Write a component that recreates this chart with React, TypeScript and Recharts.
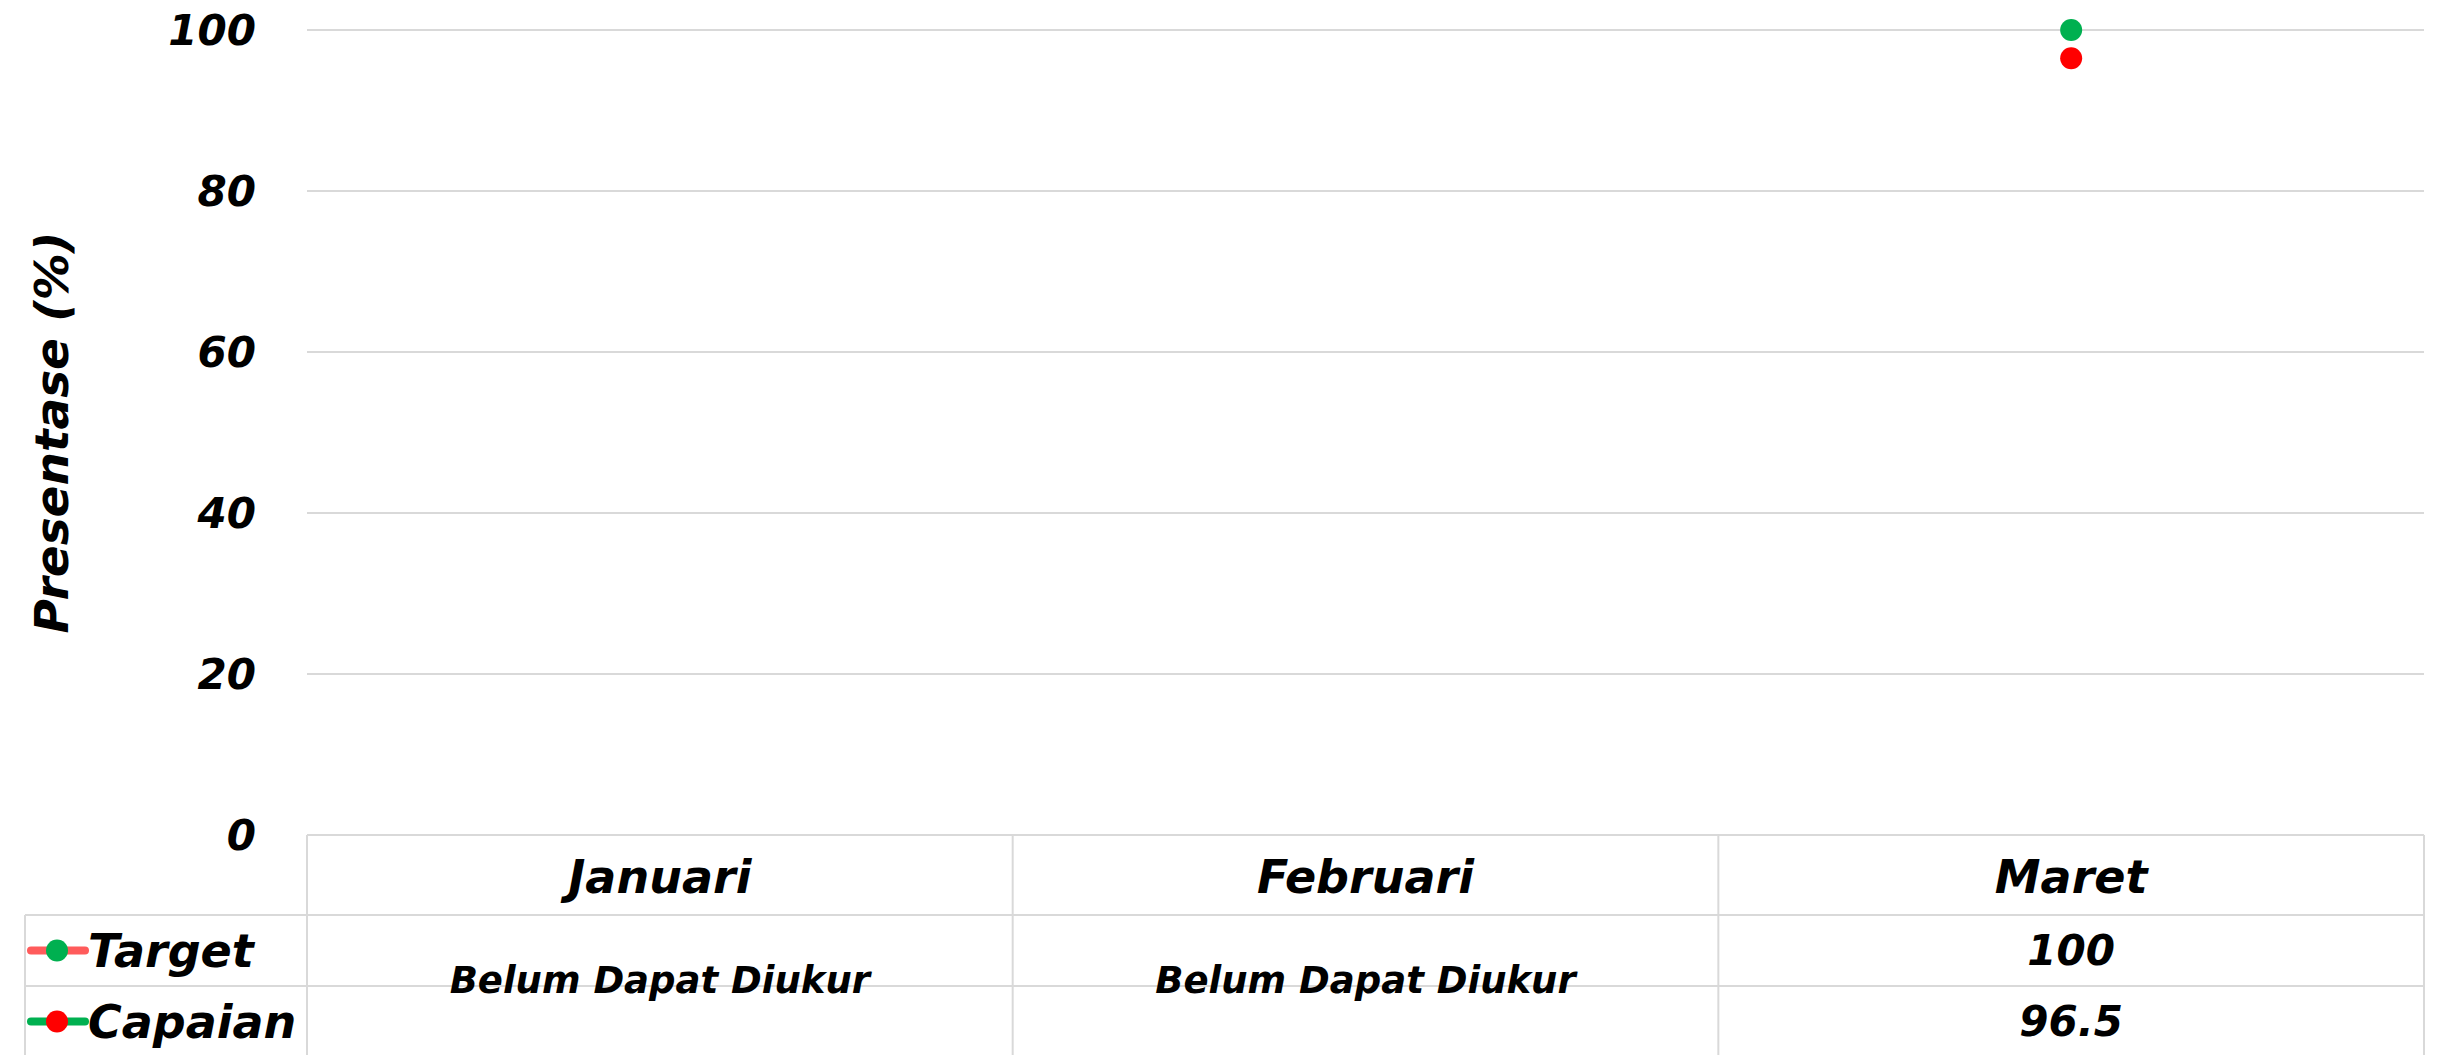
import { LineChart, Line, CartesianGrid, XAxis, YAxis } from "recharts";

const months = ["Januari", "Februari", "Maret"];
const targetValues = [null, null, 100];
const capaianValues = [null, null, 96.5];
const yTicks = [0, 20, 40, 60, 80, 100];
const noDataText = "Belum Dapat Diukur";

const seriesNames = ["Target", "Capaian"];
const dotColors = ["#00B050", "#FF0000"];
const legendLineColors = ["#FF5B5B", "#00B050"];

const data = months.map((m, i) => ({
  month: m,
  target: targetValues[i],
  capaian: capaianValues[i],
}));

const W = 2443;
const H = 1055;
const Y_AXIS_W = 307;
const RIGHT = 19;
const TOP = 30;
const TABLE_H = 220;
const PLOT_W = W - Y_AXIS_W - RIGHT;
const COL_W = PLOT_W / months.length;
const HEADER_H = 80;
const ROW_H = 71;
const LEGEND_X = 25;

const font = "'DejaVu Sans', sans-serif";
const grid = "#D9D9D9";

const TableTick = (props: any) => {
  const { x, y, payload, index } = props;
  const left = x - COL_W / 2;
  const right = x + COL_W / 2;
  const r1 = y + HEADER_H;
  const r2 = r1 + ROW_H;
  const vals = [targetValues[index], capaianValues[index]];
  const txt = {
    fontFamily: font,
    fontStyle: "italic" as const,
    fontWeight: 700,
    fill: "#000",
    textAnchor: "middle" as const,
    dominantBaseline: "central" as const,
  };
  return (
    <g>
      <line x1={left} x2={left} y1={y} y2={y + TABLE_H} stroke={grid} strokeWidth={2} />
      {index === months.length - 1 && (
        <line x1={right} x2={right} y1={y} y2={y + TABLE_H} stroke={grid} strokeWidth={2} />
      )}
      <line x1={left} x2={right} y1={y} y2={y} stroke={grid} strokeWidth={2} />
      <line x1={left} x2={right} y1={r1} y2={r1} stroke={grid} strokeWidth={2} />
      <line x1={left} x2={right} y1={r2} y2={r2} stroke={grid} strokeWidth={2} />
      <text x={x} y={y + HEADER_H / 2 + 2} fontSize={46} {...txt}>
        {payload.value}
      </text>
      {vals[0] == null && vals[1] == null ? (
        <text x={x} y={r2 - 6} fontSize={37} {...txt}>
          {noDataText}
        </text>
      ) : (
        vals.map((v, i) => (
          <text key={i} x={x} y={r1 + ROW_H / 2 + i * ROW_H} fontSize={42} {...txt}>
            {v}
          </text>
        ))
      )}
      {index === 0 && (
        <g>
          <line x1={LEGEND_X} x2={left} y1={r1} y2={r1} stroke={grid} strokeWidth={2} />
          <line x1={LEGEND_X} x2={left} y1={r2} y2={r2} stroke={grid} strokeWidth={2} />
          <line x1={LEGEND_X} x2={LEGEND_X} y1={r1} y2={y + TABLE_H} stroke={grid} strokeWidth={2} />
          {seriesNames.map((name, i) => {
            const cy = r1 + ROW_H / 2 + i * ROW_H;
            return (
              <g key={name}>
                <line x1={31} x2={85} y1={cy} y2={cy} stroke={legendLineColors[i]} strokeWidth={8} strokeLinecap="round" />
                <circle cx={57} cy={cy} r={11} fill={dotColors[i]} />
                <text
                  x={88}
                  y={cy}
                  fontSize={46}
                  fontFamily={font}
                  fontStyle="italic"
                  fontWeight={700}
                  fill="#000"
                  dominantBaseline="central"
                >
                  {name}
                </text>
              </g>
            );
          })}
        </g>
      )}
    </g>
  );
};

const YLabel = (props: any) => {
  const vb = props.viewBox;
  const cy = vb.y + vb.height / 2;
  return (
    <text
      x={51}
      y={cy}
      transform={`rotate(-90 51 ${cy})`}
      textAnchor="middle"
      dominantBaseline="central"
      fontSize={47}
      fontFamily={font}
      fontStyle="italic"
      fontWeight={700}
      fill="#000"
    >
      Presentase (%)
    </text>
  );
};

export default function App() {
  return (
    <div style={{ position: "absolute", left: 0, top: 0, background: "#fff" }}>
      <LineChart
        width={W}
        height={H}
        data={data}
        margin={{ top: TOP, right: RIGHT, bottom: 0, left: 0 }}
      >
        <CartesianGrid stroke={grid} strokeWidth={2} vertical={false} />
        <XAxis
          dataKey="month"
          height={TABLE_H}
          axisLine={false}
          tickLine={false}
          tickSize={0}
          tickMargin={0}
          interval={0}
          padding={{ left: COL_W / 2, right: COL_W / 2 }}
          tick={<TableTick />}
        />
        <YAxis
          width={Y_AXIS_W}
          domain={[0, 100]}
          ticks={yTicks}
          axisLine={false}
          tickLine={false}
          tickMargin={45}
          tick={{
            fontSize: 42,
            fontFamily: font,
            fontStyle: "italic",
            fontWeight: 700,
            fill: "#000",
          }}
          label={<YLabel />}
        />
        <Line
          dataKey="target"
          name="Target"
          stroke={legendLineColors[0]}
          strokeWidth={4}
          dot={{ r: 11, fill: dotColors[0], stroke: "none" }}
          isAnimationActive={false}
        />
        <Line
          dataKey="capaian"
          name="Capaian"
          stroke={legendLineColors[1]}
          strokeWidth={4}
          dot={{ r: 11, fill: dotColors[1], stroke: "none" }}
          isAnimationActive={false}
        />
      </LineChart>
    </div>
  );
}
